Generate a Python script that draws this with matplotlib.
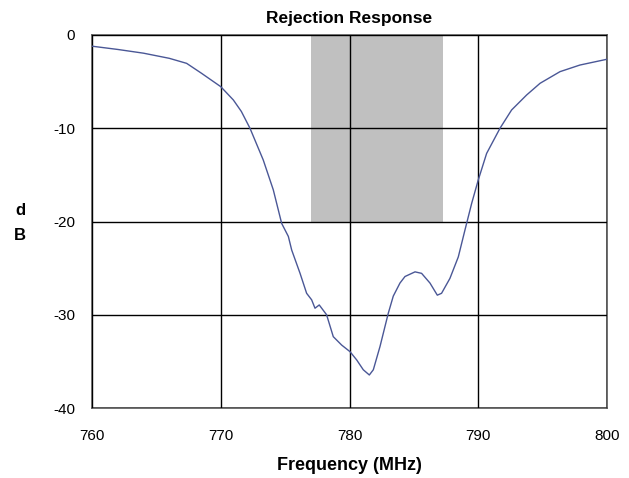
import matplotlib
matplotlib.use('Agg')
import matplotlib.pyplot as plt
import numpy as np

# frequency (MHz) and rejection (dB)
freq = [760.0, 762.0, 764.0, 766.0, 767.35, 768.5, 770.0, 770.98, 771.6, 772.27, 773.3,
        774.08, 774.73, 775.25, 775.51, 776.16, 776.67, 777.06, 777.32, 777.65,
        778.22, 778.74, 779.39, 780.04, 780.56, 781.07, 781.54, 781.85, 782.37,
        783.01, 783.4, 783.92, 784.31, 785.09, 785.6, 786.25, 786.82, 787.15,
        787.8, 788.45, 788.97, 789.49, 790.0, 790.65, 791.69, 792.59, 793.76,
        794.8, 796.35, 797.9, 800.0]
db = [-1.2, -1.55, -1.95, -2.5, -3.04, -4.1, -5.54, -6.97, -8.2, -10.0, -13.4,
      -16.6, -20.2, -21.6, -23.06, -25.56, -27.7, -28.4, -29.3, -28.95,
      -30.0, -32.35, -33.25, -33.96, -34.85, -35.9, -36.46, -35.9, -33.4,
      -29.85, -28.0, -26.6, -25.9, -25.4, -25.56, -26.6, -27.9, -27.7,
      -26.1, -23.8, -20.9, -18.05, -15.55, -12.7, -10.0, -8.04, -6.43,
      -5.18, -3.93, -3.22, -2.6]

band_lo, band_hi = 777.0, 787.25
band_floor = -20

xticks = [760, 770, 780, 790, 800]
yticks = [0, -10, -20, -30, -40]

plt.rcParams['font.family'] = ['Liberation Sans', 'DejaVu Sans']
plt.rcParams['axes.unicode_minus'] = False

fig = plt.figure(figsize=(6.29, 4.78), dpi=100)
ax = fig.add_axes([92/629, 1-408/478, 515/629, 373/478])

ax.fill_between([band_lo, band_hi], band_floor, 0, color='#c0c0c0', lw=0, zorder=1)
ax.plot(freq, db, color='#4a5796', lw=1.0, zorder=3)

ax.set_xlim(760, 800)
ax.set_ylim(-40, 0)
ax.set_xticks(xticks)
ax.set_yticks(yticks)
ax.grid(True, color='black', lw=1.0, zorder=2)
ax.set_axisbelow(False)
for s in ax.spines.values():
    s.set_color('#555555')
    s.set_linewidth(1.2)
ax.tick_params(axis='x', length=0, labelsize=11, pad=15)
ax.tick_params(axis='y', length=0, labelsize=11, pad=12)

ax.set_title('Rejection Response', fontsize=12.5, fontweight='bold', pad=9)
ax.set_xlabel('Frequency (MHz)', fontsize=13, fontweight='bold', labelpad=10)
fig.text(20/629, 1-223/478, 'd\nB', fontsize=12, fontweight='bold', ha='center', va='center',
         linespacing=1.9)

fig.savefig('out.png', dpi=100)
